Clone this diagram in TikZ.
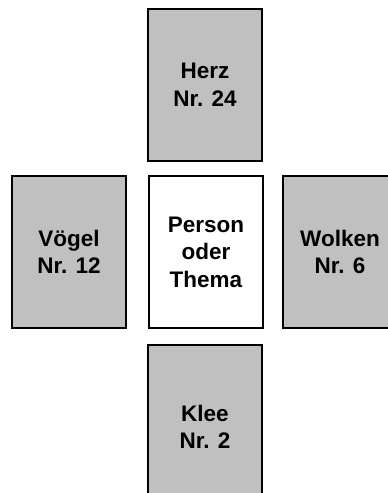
\documentclass[tikz,border=0pt]{standalone}
\usepackage{fontspec}
\setmainfont{Liberation Sans}
\usepackage{tikz}
\definecolor{cardgray}{RGB}{192,192,192}

\begin{document}
\begin{tikzpicture}[x=1pt, y=1pt,
    every node/.style={draw, line width=1.4pt, minimum width=114pt, minimum height=152pt,
      align=center, inner sep=0pt, font=\fontsize{22.5}{27.5}\selectfont\bfseries},
    card/.style={fill=cardgray},
    topic/.style={fill=white}]
  \useasboundingbox (0,0) rectangle (388,493);
  \clip (0,0) rectangle (388,493);

  % Middle card
  \node[topic] (thema) at (206,241) {Person\\oder\\Thema};

  % Outer cards
  \node[card] (herz) at (205,408) {Herz\\Nr. 24};
  \node[card] (voegel) at (69,241) {Vögel\\Nr. 12};
  \node[card] (wolken) at (340,241) {Wolken\\Nr. 6};
  \node[card, minimum height=164pt] (klee) at (205,66) {Klee\\Nr. 2};
\end{tikzpicture}
\end{document}
